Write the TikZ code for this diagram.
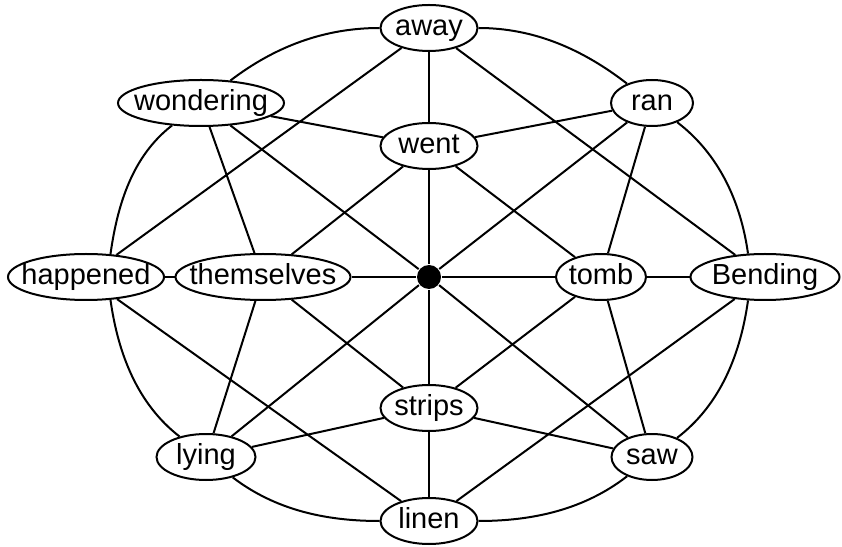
\documentclass[tikz,border=0pt]{standalone}
\usepackage{fontspec}
\setmainfont{Liberation Sans}
\usetikzlibrary{shapes.geometric}
\newcommand{\wrd}[1]{\makebox[0pt]{#1}}
\begin{document}
\begin{tikzpicture}[x=1pt,y=1pt,line width=2pt,
  word/.style={ellipse,draw,fill=white,inner sep=0pt,minimum height=46pt,
    text height=20pt,text depth=5pt,font=\fontsize{29}{31}\selectfont},
  hubdot/.style={circle,fill=black,inner sep=0pt,minimum size=24pt},
  ring/.style={looseness=0.9}]
\useasboundingbox (0,0) rectangle (842,546);
\node[word,minimum width=97pt] (away) at (429,518) {\wrd{away}};
\node[word,minimum width=166pt] (wondering) at (201,443) {\wrd{wondering}};
\node[word,minimum width=82pt] (ran) at (652,443) {\wrd{ran}};
\node[word,minimum width=97pt] (went) at (429,400) {\wrd{went}};
\node[word,minimum width=156pt] (happened) at (86,269) {\wrd{happened}};
\node[word,minimum width=175pt] (themselves) at (263,269) {\wrd{themselves}};
\node[hubdot] (hub) at (429,269) {};
\node[word,minimum width=90pt] (tomb) at (601,269) {\wrd{tomb}};
\node[word,minimum width=149pt] (Bending) at (765,269) {\wrd{Bending}};
\node[word,minimum width=97pt] (strips) at (429,138) {\wrd{strips}};
\node[word,minimum width=99pt] (lying) at (206,89) {\wrd{lying}};
\node[word,minimum width=81pt] (saw) at (652,89) {\wrd{saw}};
\node[word,minimum width=97pt] (linen) at (429,25) {\wrd{linen}};
% outer ring
\draw[ring] (away) to[out=0,in=142.4] (ran);
\draw[ring] (ran) to[out=-37.6,in=98] (Bending.126);
\draw[ring] (Bending.-126) to[out=-98,in=37.6] (saw);
\draw[ring] (saw) to[out=-142.4,in=0] (linen);
\draw[ring] (linen) to[out=180,in=-37.6] (lying);
\draw[ring] (lying) to[out=142.4,in=-82] (happened.-43);
\draw[ring] (happened.43) to[out=82,in=-142.4] (wondering);
\draw[ring] (wondering) to[out=37.6,in=180] (away);
% spokes
\draw (away) -- (went) -- (hub) -- (strips) -- (linen);
\draw (happened) -- (themselves) -- (hub) -- (tomb) -- (Bending);
\draw (wondering) -- (hub) -- (saw);
\draw (ran) -- (hub) -- (lying);
% inner links
\draw (wondering) -- (went) -- (ran);
\draw (lying) -- (strips) -- (saw);
\draw (themselves) -- (went) -- (tomb);
\draw (themselves) -- (strips) -- (tomb);
\draw (happened) -- (away) -- (Bending);
\draw (happened) -- (linen) -- (Bending);
\draw (wondering) -- (themselves) -- (lying);
\draw (ran) -- (tomb) -- (saw);
\end{tikzpicture}
\end{document}
